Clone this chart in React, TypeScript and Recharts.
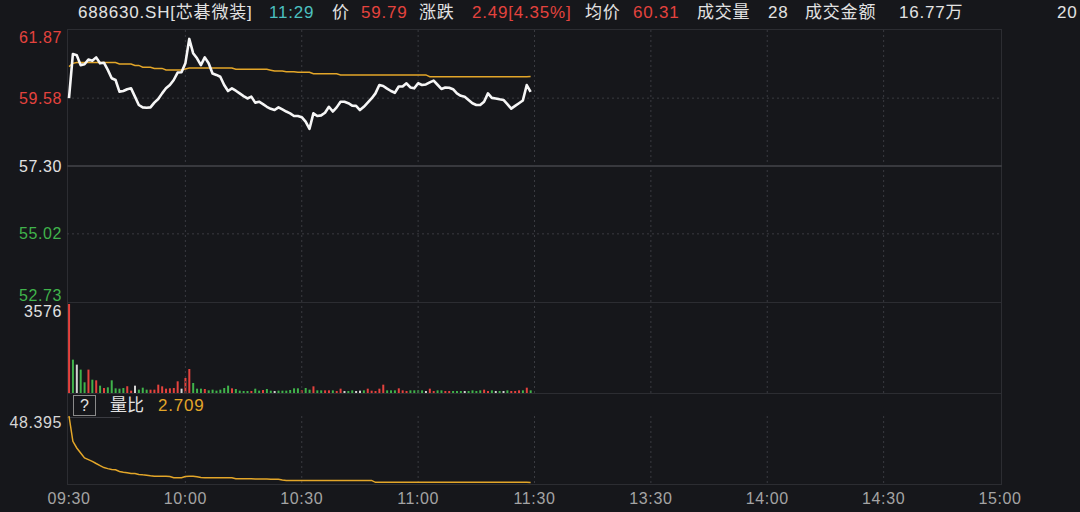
import React from "react";
import {
  Bar,
  BarChart,
  Cell,
  ComposedChart,
  Line,
  LineChart,
  ReferenceLine,
  XAxis,
  YAxis,
} from "recharts";

// minute index 0..240 (09:30 -> 11:30 | 13:00 -> 15:00)
const timeTicks = [0, 30, 60, 90, 120, 150, 180, 210, 240];
const timeLabels = ["09:30", "10:00", "10:30", "11:00", "11:30", "13:30", "14:00", "14:30", "15:00"];
const gridTicks = [30, 60, 90, 120, 150, 180, 210];

const priceTicks = [52.73, 55.02, 57.3, 59.58, 61.87];
const pctTicks = [-7.98, -3.99, 0, 3.99, 7.98];
const preClose = 57.3;
const volMax = 3576;
const ratioMax = 48.395;

const price = [
  59.58, 61.06, 61.02, 60.69, 60.72, 60.88, 60.84, 60.95, 60.75, 60.77,
  60.53, 60.25, 60.19, 59.8, 59.82, 59.88, 59.91, 59.63, 59.35, 59.27,
  59.26, 59.27, 59.43, 59.55, 59.74, 59.91, 60.02, 60.19, 60.44, 60.45,
  60.75, 61.57, 61.09, 60.92, 60.69, 60.95, 60.75, 60.41, 60.36, 60.3,
  60.02, 59.82, 59.91, 59.83, 59.74, 59.65, 59.57, 59.63, 59.43, 59.46,
  59.38, 59.29, 59.22, 59.18, 59.27, 59.2, 59.13, 59.07, 58.98, 58.98,
  58.94, 58.79, 58.55, 59.07, 58.98, 59.0, 59.09, 59.29, 59.13, 59.27,
  59.46, 59.46, 59.41, 59.33, 59.32, 59.18, 59.29, 59.43, 59.57, 59.74,
  60.02, 59.99, 59.9, 59.82, 59.76, 59.97, 59.97, 60.08, 59.94, 59.91,
  60.08, 60.02, 60.04, 60.11, 60.17, 60.03, 59.89, 59.94, 59.93, 59.88,
  59.74, 59.66, 59.63, 59.52, 59.41, 59.35, 59.35, 59.46, 59.74, 59.59,
  59.57, 59.54, 59.52, 59.38, 59.23, 59.32, 59.41, 59.5, 60.02, 59.79,
];

const avgPrice = [
  60.64, 60.75, 60.78, 60.78, 60.78, 60.78, 60.78, 60.78, 60.78, 60.78,
  60.78, 60.78, 60.78, 60.73, 60.73, 60.73, 60.73, 60.68, 60.68, 60.62,
  60.62, 60.62, 60.58, 60.58, 60.58, 60.53, 60.53, 60.53, 60.53, 60.53,
  60.56, 60.59, 60.59, 60.59, 60.59, 60.59, 60.59, 60.59, 60.59, 60.59,
  60.59, 60.59, 60.59, 60.55, 60.55, 60.55, 60.55, 60.55, 60.55, 60.55,
  60.55, 60.55, 60.52, 60.49, 60.49, 60.49, 60.47, 60.47, 60.47, 60.45,
  60.45, 60.45, 60.45, 60.4, 60.4, 60.4, 60.4, 60.4, 60.4, 60.4,
  60.36, 60.36, 60.36, 60.36, 60.36, 60.36, 60.36, 60.36, 60.36, 60.36,
  60.36, 60.36, 60.36, 60.36, 60.36, 60.36, 60.36, 60.36, 60.36, 60.36,
  60.36, 60.36, 60.36, 60.3, 60.3, 60.3, 60.3, 60.3, 60.3, 60.3,
  60.3, 60.3, 60.3, 60.3, 60.3, 60.3, 60.3, 60.3, 60.3, 60.3,
  60.3, 60.3, 60.3, 60.3, 60.3, 60.3, 60.3, 60.3, 60.3, 60.31,
];

const volume = [
  3576, 1340, 1140, 940, 430, 940, 535, 510, 295, 200,
  228, 510, 188, 174, 200, 268, 94, 295, 134, 214,
  134, 134, 134, 335, 268, 174, 188, 200, 470, 174,
  603, 965, 402, 174, 174, 160, 107, 134, 94, 134,
  200, 295, 188, 160, 94, 80, 80, 80, 174, 94,
  120, 160, 94, 80, 94, 94, 94, 120, 188, 188,
  107, 200, 134, 268, 107, 107, 107, 107, 107, 80,
  174, 80, 80, 107, 80, 94, 107, 174, 94, 80,
  174, 335, 107, 107, 107, 188, 107, 80, 107, 107,
  107, 107, 80, 174, 80, 107, 107, 80, 80, 80,
  80, 80, 80, 80, 107, 80, 107, 134, 80, 107,
  80, 80, 80, 107, 80, 80, 107, 107, 214, 107,
];

// 1 = up (red), -1 = down (green), 0 = flat (white)
const volDir = [
  1, -1, 0, -1, -1, 1, -1, 1, -1, 1,
  -1, -1, -1, -1, -1, 1, 1, 0, -1, -1,
  -1, 1, 1, 1, 1, 1, 1, 1, 1, 0,
  1, 1, -1, -1, -1, 1, -1, -1, -1, -1,
  -1, -1, 1, -1, -1, -1, -1, 1, -1, -1,
  1, -1, -1, 0, -1, -1, -1, -1, -1, -1,
  1, -1, -1, 1, -1, -1, 1, 1, -1, 1,
  1, 0, -1, -1, 0, 0, -1, 1, 1, 1,
  1, 1, -1, -1, -1, 1, 1, 1, -1, -1,
  -1, -1, 0, 1, 1, -1, -1, 1, 1, -1,
  -1, -1, 0, -1, -1, -1, -1, 1, 1, -1,
  0, -1, 0, -1, 1, 1, 1, -1, 1, -1,
];

const volRatio = [
  48.395, 31.0, 26.4, 22.9, 19.5, 18.4, 17.2, 15.7, 14.3, 12.9,
  12.2, 11.6, 11.4, 10.2, 9.7, 9.3, 8.8, 8.8, 8.2, 7.9,
  7.7, 7.3, 7.0, 7.0, 7.0, 7.0, 6.8, 5.9, 5.9, 5.9,
  6.8, 7.0, 7.0, 6.6, 6.1, 5.9, 5.9, 5.9, 5.9, 5.9,
  5.9, 5.9, 5.9, 5.2, 5.2, 5.2, 5.2, 5.2, 5.0, 5.0,
  5.0, 5.0, 4.9, 4.8, 4.8, 4.4, 4.1, 4.1, 4.1, 4.1,
  4.1, 4.1, 4.1, 4.1, 4.1, 4.1, 4.1, 4.1, 4.1, 4.1,
  4.1, 4.1, 4.1, 4.1, 4.1, 4.1, 4.1, 4.1, 4.1, 2.75,
  2.75, 2.75, 2.75, 2.75, 2.75, 2.75, 2.75, 2.75, 2.75, 2.75,
  2.75, 2.75, 2.75, 2.75, 2.75, 2.75, 2.75, 2.75, 2.75, 2.75,
  2.75, 2.75, 2.75, 2.75, 2.75, 2.75, 2.75, 2.75, 2.75, 2.75,
  2.75, 2.75, 2.75, 2.75, 2.75, 2.75, 2.75, 2.75, 2.75, 2.709,
];

const rows = price.map((p, i) => ({
  t: i,
  price: p,
  avg: avgPrice[i],
  vol: volume[i],
  dir: volDir[i],
  ratio: volRatio[i],
}));

const BG = "#16171b";
const FRAME = "#2c2d32";
const GRID = "#3a3b41";
const RED = "#e4433e";
const GREEN = "#40b34b";
const WHITE = "#e2e2e2";
const GOLD = "#e3a629";
const FONT = '"Liberation Sans", Arial, "Noto Sans CJK SC", sans-serif';

const colorFor = (v: number, mid: number) => (v > mid ? RED : v < mid ? GREEN : WHITE);

const labelText = (x: number, y: number, text: string, fill: string, anchor: "start" | "end") => (
  <text
    x={x}
    y={y}
    textAnchor={anchor}
    dominantBaseline="central"
    fill={fill}
    fontSize={16}
    letterSpacing={0.6}
    fontFamily={FONT}
  >
    {text}
  </text>
);

// top label sits just under the frame line, bottom one just above it
const edgeShift = (v: number, lo: number, hi: number) => (v === hi ? 7 : v === lo ? -7 : 0);

const PriceTick = (props: any) => {
  const v = props.payload.value as number;
  return labelText(62, props.y + edgeShift(v, 52.73, 61.87), v.toFixed(2), colorFor(v, preClose), "end");
};

const PctTick = (props: any) => {
  const v = props.payload.value as number;
  return labelText(1006, props.y + edgeShift(v, -7.98, 7.98), `${v.toFixed(2)}%`, colorFor(v, 0), "start");
};

const VolTick = (side: "left" | "right") => (props: any) =>
  labelText(side === "left" ? 62 : 1006, props.y + 7, String(props.payload.value), WHITE, side === "left" ? "end" : "start");

const RatioTick = (side: "left" | "right") => (props: any) =>
  labelText(side === "left" ? 62 : 1006, props.y + 6, String(props.payload.value), "#d6d6d6", side === "left" ? "end" : "start");

const TimeTick = (props: any) => {
  const i = timeTicks.indexOf(props.payload.value);
  return (
    <text x={props.x} y={105} textAnchor="middle" dominantBaseline="central" fill="#a4a4a4" fontSize={16} letterSpacing={0.6} fontFamily={FONT}>
      {timeLabels[i]}
    </text>
  );
};

const vGrid = (yAxisId: string) =>
  gridTicks.map((t) => (
    <ReferenceLine key={`g${t}`} x={t} yAxisId={yAxisId} stroke={GRID} strokeDasharray="2 3" ifOverflow="visible" />
  ));

const xAxis = (hide: boolean) => (
  <XAxis
    dataKey="t"
    type="number"
    domain={[0, 240]}
    ticks={timeTicks}
    interval={0}
    padding={{ left: 2, right: 2 }}
    hide={hide}
    height={29}
    axisLine={false}
    tickLine={false}
    tick={TimeTick}
  />
);

const header: { x: number; text: string; color: string }[] = [
  { x: 78, text: "688630.SH[芯碁微装]", color: WHITE },
  { x: 269, text: "11:29", color: "#4cc0c0" },
  { x: 332, text: "价", color: WHITE },
  { x: 361, text: "59.79", color: RED },
  { x: 419, text: "涨跌", color: WHITE },
  { x: 472, text: "2.49[4.35%]", color: RED },
  { x: 585, text: "均价", color: WHITE },
  { x: 633, text: "60.31", color: RED },
  { x: 697, text: "成交量", color: WHITE },
  { x: 768, text: "28", color: WHITE },
  { x: 805, text: "成交金额", color: WHITE },
  { x: 899, text: "16.77万", color: WHITE },
  { x: 1057, text: "20", color: WHITE },
];

const abs = (top: number): React.CSSProperties => ({ position: "absolute", left: 0, top });

export default function App() {
  return (
    <div
      style={{
        position: "fixed",
        left: 0,
        top: 0,
        width: 1080,
        height: 512,
        background: BG,
        overflow: "hidden",
        fontFamily: FONT,
      }}
    >
      {header.map((h) => (
        <span
          key={h.text}
          style={{
            position: "absolute",
            left: h.x,
            top: 3,
            lineHeight: "20px",
            fontSize: 17,
            letterSpacing: 0.8,
            color: h.color,
            whiteSpace: "nowrap",
          }}
        >
          {h.text}
        </span>
      ))}

      {/* panel frames */}
      <div style={{ position: "absolute", left: 67, top: 29, width: 935, height: 456, border: `1px solid ${FRAME}`, boxSizing: "border-box" }} />
      <div style={{ position: "absolute", left: 67, top: 302, width: 935, height: 1, background: FRAME }} />
      <div style={{ position: "absolute", left: 67, top: 393, width: 935, height: 1, background: FRAME }} />
      <div style={{ position: "absolute", left: 67, top: 417, width: 53, height: 1, background: GRID }} />

      {/* price panel: plot area spans y 30..302 */}
      <div style={abs(30)}>
        <ComposedChart width={1080} height={282} data={rows} margin={{ top: 0, right: 0, bottom: 10, left: 0 }}>
          {xAxis(true)}
          <YAxis yAxisId="p" domain={[52.73, 61.87]} ticks={priceTicks} interval={0} width={67} axisLine={false} tickLine={false} tick={PriceTick} />
          <YAxis yAxisId="pct" orientation="right" domain={[-7.98, 7.98]} ticks={pctTicks} interval={0} width={78} axisLine={false} tickLine={false} tick={PctTick} />
          {vGrid("p")}
          <ReferenceLine yAxisId="p" y={59.58} stroke={GRID} strokeDasharray="2 3" />
          <ReferenceLine yAxisId="p" y={55.02} stroke={GRID} strokeDasharray="2 3" />
          <ReferenceLine yAxisId="p" y={preClose} stroke="#38393e" strokeWidth={2} />
          <Line yAxisId="p" dataKey="avg" type="linear" stroke={GOLD} strokeWidth={1.5} dot={false} isAnimationActive={false} />
          <Line yAxisId="p" dataKey="price" type="linear" stroke="#f6f6f6" strokeWidth={2.6} strokeLinejoin="round" dot={false} isAnimationActive={false} />
        </ComposedChart>
      </div>

      {/* volume panel: plot area spans y 304..393 */}
      <div style={abs(302)}>
        <BarChart width={1080} height={91} data={rows} margin={{ top: 2, right: 0, bottom: 0, left: 0 }}>
          {xAxis(true)}
          <YAxis yAxisId="v" domain={[0, volMax]} ticks={[volMax]} interval={0} width={67} axisLine={false} tickLine={false} tick={VolTick("left")} />
          <YAxis yAxisId="vr" orientation="right" domain={[0, volMax]} ticks={[volMax]} interval={0} width={78} axisLine={false} tickLine={false} tick={VolTick("right")} />
          {vGrid("v")}
          <Bar yAxisId="v" dataKey="vol" barSize={2} isAnimationActive={false}>
            {rows.map((r) => (
              <Cell key={r.t} fill={r.dir > 0 ? RED : r.dir < 0 ? GREEN : "#d4d4d4"} />
            ))}
          </Bar>
        </BarChart>
      </div>

      {/* volume ratio panel */}
      <div style={{ position: "absolute", left: 73, top: 395, width: 23, height: 21, border: "1px solid #8a8a8a", boxSizing: "border-box", color: WHITE, fontSize: 16, lineHeight: "19px", textAlign: "center" }}>
        ?
      </div>
      <span style={{ position: "absolute", left: 110, top: 396, lineHeight: "20px", fontSize: 17, color: WHITE }}>量比</span>
      <span style={{ position: "absolute", left: 158, top: 396, lineHeight: "20px", fontSize: 17, letterSpacing: 0.8, color: GOLD }}>2.709</span>

      <div style={abs(393)}>
        <LineChart width={1080} height={119} data={rows} margin={{ top: 23, right: 0, bottom: 0, left: 0 }}>
          {xAxis(false)}
          <YAxis yAxisId="r" domain={[2.3, ratioMax]} ticks={[ratioMax]} interval={0} width={67} axisLine={false} tickLine={false} tick={RatioTick("left")} />
          <YAxis yAxisId="rr" orientation="right" domain={[2.3, ratioMax]} ticks={[ratioMax]} interval={0} width={78} axisLine={false} tickLine={false} tick={RatioTick("right")} />
          {vGrid("r")}
          <Line yAxisId="r" dataKey="ratio" type="linear" stroke={GOLD} strokeWidth={1.5} dot={false} isAnimationActive={false} />
        </LineChart>
      </div>
    </div>
  );
}
